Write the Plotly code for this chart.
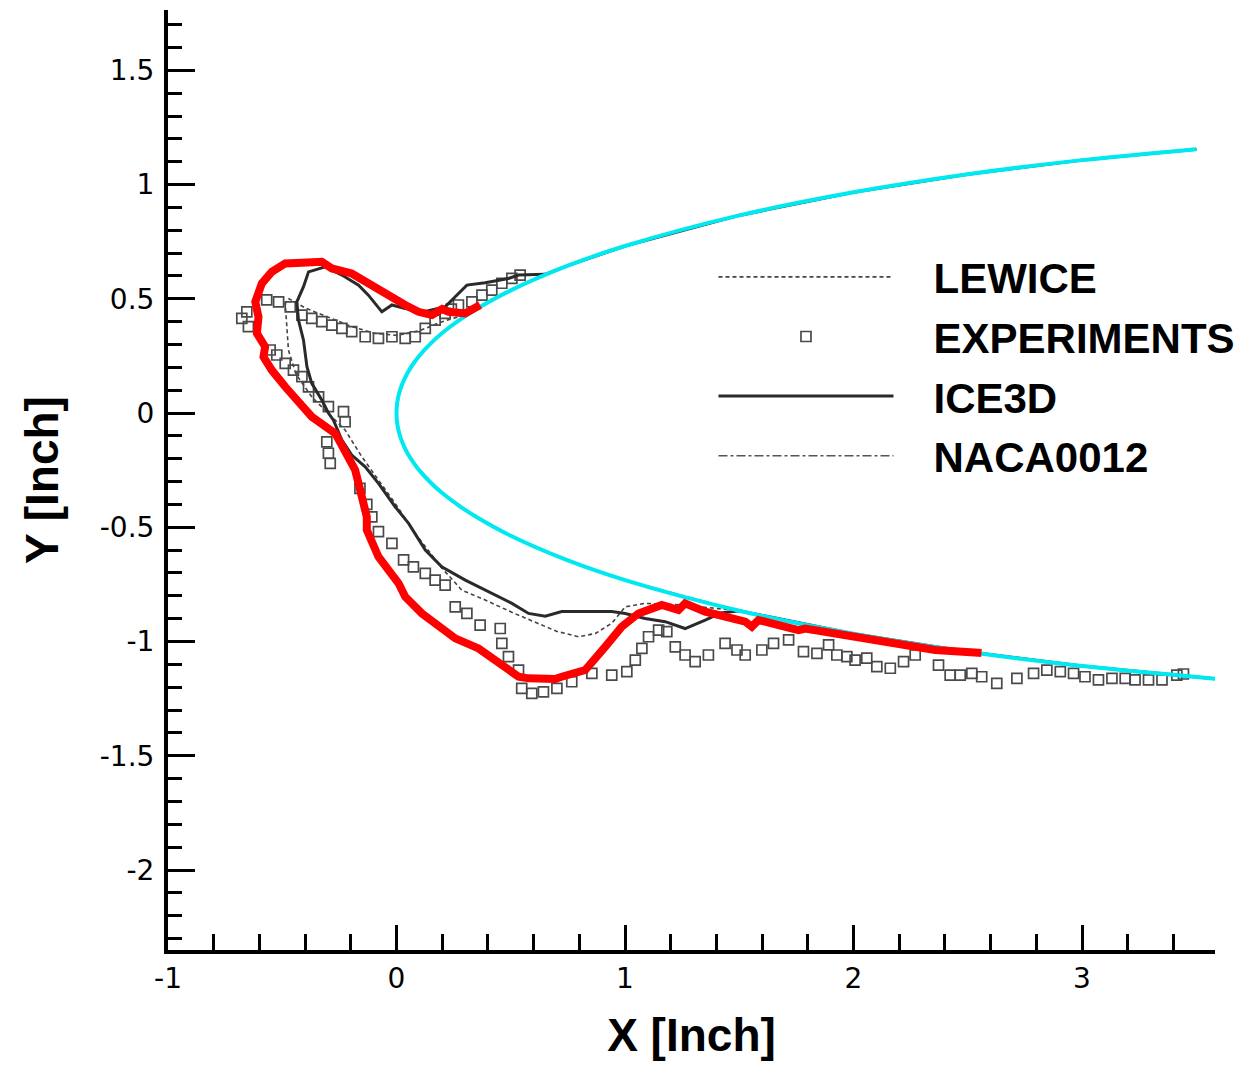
import plotly.graph_objects as go

# Clean NACA0012 section (21 in chord), leading-edge region, upper surface -> lower surface
airfoil_x = [3.5, 3.0, 2.5, 2.0, 1.5, 1.0, 0.75, 0.5, 0.35, 0.27, 0.2, 0.15, 0.1, 0.075, 0.05,
             0.035, 0.02, 0.01, 0.005, 0.002, 0.0,
             0.002, 0.005, 0.01, 0.02, 0.035, 0.05, 0.075, 0.1, 0.15, 0.2, 0.27, 0.35, 0.5,
             0.75, 1.0, 1.5, 2.0, 2.5, 3.0, 3.5, 3.6]
airfoil_y = [1.155, 1.107, 1.045, 0.966, 0.865, 0.731, 0.645, 0.537, 0.455, 0.403, 0.350, 0.305,
             0.251, 0.218, 0.179, 0.150, 0.114, 0.081, 0.057, 0.037, 0.0,
             -0.037, -0.057, -0.081, -0.114, -0.150, -0.179, -0.218, -0.251, -0.305, -0.350,
             -0.403, -0.455, -0.537, -0.645, -0.731, -0.865, -0.966, -1.045, -1.107, -1.155, -1.164]

# LEWICE predicted ice shape
lewice_x = [3.5, 3.0, 2.5, 2.0, 1.5, 1.0, 0.75, 0.5, 0.35, 0.3, 0.2, 0.1, 0.0, -0.1, -0.2, -0.3,
            -0.4, -0.47, -0.487, -0.48, -0.473, -0.44, -0.37, -0.30, -0.225, -0.152, -0.08,
            -0.006, 0.082, 0.2, 0.286, 0.388, 0.5, 0.621, 0.70, 0.796, 0.87, 0.942, 1.001,
            1.088, 1.25, 1.5, 2.0, 2.5, 3.0, 3.5, 3.6]
lewice_y = [1.155, 1.107, 1.045, 0.966, 0.865, 0.731, 0.645, 0.537, 0.455, 0.43, 0.40, 0.36,
            0.34, 0.35, 0.38, 0.42, 0.46, 0.50, 0.48, 0.38, 0.276, 0.17, 0.07, 0.0, -0.074,
            -0.191, -0.29, -0.395, -0.527, -0.68, -0.775, -0.818, -0.87, -0.920, -0.955,
            -0.979, -0.965, -0.920, -0.848, -0.833, -0.84, -0.865, -0.966, -1.045, -1.107,
            -1.155, -1.164]

# Measured ice shape
exp_x = [0.541, 0.505, 0.461, 0.417, 0.374, 0.330, 0.271, 0.240, 0.213, 0.169, 0.126, 0.082,
         0.038, -0.020, -0.079, -0.137, -0.196, -0.239, -0.283, -0.327, -0.371, -0.414, -0.465,
         -0.516, -0.568, -0.655, -0.677, -0.648, -0.553, -0.524, -0.487, -0.451, -0.414,
         -0.385, -0.341, -0.298, -0.232, -0.225, -0.305, -0.298, -0.290, -0.16, -0.13,
         -0.108, -0.079, -0.020, 0.031, 0.074, 0.126, 0.169, 0.213, 0.257, 0.308, 0.366,
         0.454, 0.461, 0.490, 0.534, 0.548, 0.592, 0.643, 0.702, 0.767, 0.855, 0.942, 1.008,
         1.045, 1.074, 1.103, 1.147, 1.183, 1.220, 1.263, 1.307, 1.365, 1.438, 1.490, 1.526,
         1.599, 1.650, 1.716, 1.781, 1.840, 1.891, 1.927, 1.971, 2.007, 2.058, 2.102, 2.161,
         2.219, 2.270, 2.372, 2.423, 2.467, 2.518, 2.561, 2.627, 2.715, 2.788, 2.846, 2.905,
         2.963, 3.013, 3.072, 3.131, 3.189, 3.232, 3.291, 3.350, 3.415, 3.444]
exp_y = [0.604, 0.589, 0.568, 0.538, 0.516, 0.487, 0.473, 0.455, 0.436, 0.407, 0.371, 0.334,
         0.327, 0.334, 0.327, 0.334, 0.356, 0.371, 0.385, 0.400, 0.414, 0.429, 0.465, 0.487,
         0.495, 0.443, 0.414, 0.378, 0.276, 0.254, 0.217, 0.188, 0.159, 0.115, 0.071, 0.028,
         0.006, -0.038, -0.126, -0.176, -0.220, -0.33, -0.40, -0.454, -0.519, -0.570, -0.643,
         -0.673, -0.702, -0.731, -0.753, -0.848, -0.877, -0.928, -0.943, -1.008, -1.066,
         -1.125, -1.205, -1.227, -1.220, -1.205, -1.176, -1.139, -1.147, -1.132, -1.081,
         -1.030, -0.979, -0.950, -0.957, -1.023, -1.059, -1.088, -1.059, -1.008, -1.037,
         -1.059, -1.037, -1.008, -0.993, -1.044, -1.052, -1.015, -1.059, -1.066, -1.081,
         -1.073, -1.110, -1.117, -1.088, -1.059, -1.103, -1.147, -1.147, -1.139, -1.154,
         -1.183, -1.161, -1.139, -1.125, -1.132, -1.139, -1.154, -1.168, -1.161, -1.161,
         -1.168, -1.168, -1.168, -1.147, -1.142]

# ICE3D predicted ice shape
ice3d_x = [3.5, 3.0, 2.5, 2.0, 1.5, 1.0, 0.75, 0.65, 0.534, 0.49, 0.388, 0.308, 0.257, 0.213,
           0.126, 0.038, -0.020, -0.064, -0.123, -0.166, -0.239, -0.312, -0.385, -0.407,
           -0.436, -0.429, -0.407, -0.392, -0.371, -0.327, -0.298, -0.276, -0.239, -0.196,
           -0.137, -0.079, -0.006, 0.053, 0.126, 0.198, 0.301, 0.359, 0.417, 0.476, 0.505,
           0.578, 0.651, 0.723, 0.796, 0.942, 1.001, 1.088, 1.176, 1.263, 1.351, 1.42, 1.5,
           2.0, 2.5, 3.0, 3.5, 3.6]
ice3d_y = [1.155, 1.107, 1.045, 0.966, 0.865, 0.731, 0.645, 0.607, 0.604, 0.589, 0.570, 0.560,
           0.509, 0.465, 0.445, 0.458, 0.473, 0.443, 0.516, 0.560, 0.604, 0.640, 0.618, 0.553,
           0.487, 0.407, 0.319, 0.203, 0.130, 0.057, 0.0, -0.031, -0.118, -0.184, -0.235,
           -0.308, -0.410, -0.483, -0.600, -0.673, -0.731, -0.760, -0.789, -0.818, -0.833,
           -0.877, -0.889, -0.869, -0.869, -0.869, -0.877, -0.899, -0.913, -0.943, -0.906,
           -0.875, -0.865, -0.966, -1.045, -1.107, -1.155, -1.164]

# Present ice-shape prediction
present_x = [0.366, 0.30, 0.228, 0.20, 0.155, 0.096, 0.038, -0.049, -0.123, -0.196, -0.283,
             -0.327, -0.414, -0.487, -0.546, -0.589, -0.618, -0.604, -0.611, -0.575, -0.582,
             -0.546, -0.487, -0.371, -0.268, -0.225, -0.181, -0.159, -0.130, -0.130, -0.079,
             0.009, 0.038, 0.111, 0.257, 0.359, 0.476, 0.534, 0.578, 0.621, 0.694, 0.723,
             0.796, 0.826, 0.913, 0.986, 1.059, 1.161, 1.234, 1.263, 1.351, 1.453, 1.526,
             1.555, 1.584, 1.672, 1.759, 1.789, 1.964, 2.109, 2.255, 2.357, 2.547, 2.56]
present_y = [0.473, 0.436, 0.443, 0.455, 0.429, 0.443, 0.473, 0.524, 0.575, 0.611, 0.633,
             0.662, 0.658, 0.655, 0.618, 0.568, 0.487, 0.421, 0.349, 0.290, 0.246, 0.188,
             0.115, -0.016, -0.089, -0.176, -0.249, -0.337, -0.454, -0.512, -0.629, -0.745,
             -0.804, -0.877, -0.986, -1.030, -1.110, -1.154, -1.161, -1.161, -1.164, -1.154,
             -1.139, -1.125, -1.023, -0.935, -0.877, -0.840, -0.862, -0.833, -0.869, -0.899,
             -0.913, -0.935, -0.906, -0.928, -0.950, -0.943, -0.972, -0.993, -1.015, -1.037,
             -1.049, -1.05]

x_tick_vals = [-1, 0, 1, 2, 3]
x_tick_text = ["-1", "0", "1", "2", "3"]
y_tick_vals = [-2, -1.5, -1, -0.5, 0, 0.5, 1, 1.5]
y_tick_text = ["-2", "-1.5", "-1", "-0.5", "0", "0.5", "1", "1.5"]

# legend entries are padded away from their line samples with no-break spaces
pad = "\u00a0\u00a0\u00a0"

fig = go.Figure()

fig.add_trace(go.Scatter(x=airfoil_x, y=airfoil_y, mode="lines", name=pad + "NACA0012",
                         legendgroup="naca", legendrank=4,
                         line=dict(color="#555555", width=1.5, dash="dashdot")))
fig.add_trace(go.Scatter(x=lewice_x, y=lewice_y, mode="lines", name=pad + "LEWICE",
                         legendgroup="lewice", legendrank=1,
                         line=dict(color="#444444", width=1.6, dash="4px,3px")))
fig.add_trace(go.Scatter(x=exp_x, y=exp_y, mode="markers", name=pad + "EXPERIMENTS",
                         legendgroup="exp", legendrank=2,
                         marker=dict(symbol="square-open", size=10, color="#4a4a4a",
                                     line=dict(width=1.7))))
fig.add_trace(go.Scatter(x=ice3d_x, y=ice3d_y, mode="lines", name=pad + "ICE3D",
                         legendgroup="ice3d", legendrank=3,
                         line=dict(color="#2a2a2a", width=3)))
fig.add_trace(go.Scatter(x=airfoil_x, y=airfoil_y, mode="lines", showlegend=False,
                         line=dict(color="#00e8f0", width=4, shape="spline")))
fig.add_trace(go.Scatter(x=present_x, y=present_y, mode="lines", showlegend=False,
                         line=dict(color="#ff0000", width=8)))

axis_font = dict(family="DejaVu Sans, Liberation Sans, sans-serif", size=28, color="black")
title_font = dict(family="Liberation Sans, Arial, sans-serif", size=46, color="black",
                  weight="bold")

fig.update_layout(
    width=1237, height=1070,
    margin=dict(l=168, r=22, t=10, b=120, autoexpand=False),
    paper_bgcolor="white", plot_bgcolor="white",
    xaxis=dict(range=[-1, 3.582], tickmode="array", tickvals=x_tick_vals,
               ticktext=x_tick_text, ticks="inside", ticklen=25, tickwidth=3,
               tickcolor="black", showline=True, linewidth=4, linecolor="black",
               showgrid=False, zeroline=False, tickfont=axis_font, ticklabelstandoff=0,
               minor=dict(tick0=-1, dtick=0.2, ticks="inside", ticklen=16, tickwidth=2.5,
                          tickcolor="black", showgrid=False),
               title=dict(text="X [Inch]", font=title_font, standoff=26)),
    yaxis=dict(range=[-2.35, 1.764], tickmode="array", tickvals=y_tick_vals,
               ticktext=y_tick_text, ticks="inside", ticklen=27, tickwidth=3,
               tickcolor="black", showline=True, linewidth=4, linecolor="black",
               showgrid=False, zeroline=False, tickfont=axis_font, ticklabelstandoff=4,
               minor=dict(tick0=0, dtick=0.1, ticks="inside", ticklen=14, tickwidth=2.5,
                          tickcolor="black", showgrid=False),
               title=dict(text="Y [Inch]", font=title_font, standoff=28)),
    legend=dict(x=0.521, y=0.752, xanchor="left", yanchor="top", bgcolor="rgba(0,0,0,0)",
                itemwidth=175, tracegroupgap=2,
                font=dict(family="Liberation Sans, Arial, sans-serif", size=42,
                          color="black", weight="bold")),
    showlegend=True,
)

fig.write_html("out.html")
